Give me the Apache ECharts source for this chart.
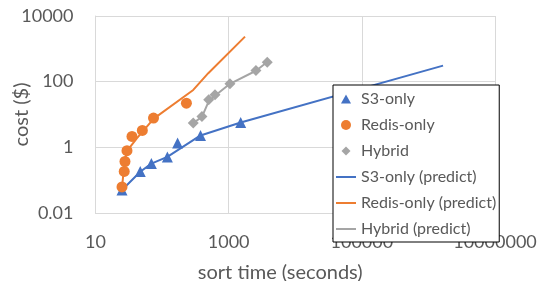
<!DOCTYPE html>
<html>
<head>
<meta charset="utf-8">
<script src="https://cdn.jsdelivr.net/npm/echarts@6/dist/echarts.min.js"></script>
<style>
  html, body { margin: 0; padding: 0; background: #fff; }
  #chart { width: 539px; height: 281px; }
</style>
</head>
<body>
<div id="chart"></div>
<script>
// measured points (sort time in seconds, cost in $)
const s3Time = [25, 47, 69, 120, 171, 378, 1515];
const s3Cost = [0.05, 0.185, 0.32, 0.51, 1.35, 2.3, 5.7];
const redisTime = [25, 27, 27.7, 29.7, 35.3, 50.5, 74.3, 232];
const redisCost = [0.062, 0.185, 0.37, 0.79, 2.14, 3.26, 7.8, 22.2];
const hybridTime = [294, 397, 501, 623, 1045, 2570, 3800];
const hybridCost = [5.5, 8.7, 28, 39.7, 86, 217, 392];

// model predictions
const s3PredTime = [25, 47, 69, 120, 378, 1515, 1660000];
const s3PredCost = [0.05, 0.18, 0.32, 0.51, 2.3, 5.7, 308];
const redisPredTime = [25, 27.4, 30, 42, 75, 294, 494, 1760];
const redisPredCost = [0.06, 0.37, 0.8, 1.9, 7.5, 56, 181, 2350];
const hybridPredTime = [294, 397, 501, 623, 1045, 2570, 3800];
const hybridPredCost = [5.5, 8.5, 25, 37, 86, 215, 395];

const BLUE = '#4472C4';
const ORANGE = '#ED7D31';
const GREY = '#A5A5A5';
const TEXT = '#595959';
const FONT = 'Lato';

// legend icons drawn inside a 20x10 box so they are not stretched
const LINE_ICON = 'path://M0,0H20V2H0Z';
const TRI_ICON = 'path://M0,0M20,10M5,9.5L10,0.5L15,9.5Z';
const DOT_ICON = 'path://M0,0M20,10M5,5A5,5,0,1,1,15,5A5,5,0,1,1,5,5Z';
const DIAMOND_ICON = 'path://M0,0M20,10M10,0.5L14.5,5L10,9.5L5.5,5Z';

function pairs(xs, ys) {
  return xs.map((x, i) => [x, ys[i]]);
}

function fmt(v) {
  return v >= 1 ? String(Math.round(v)) : String(+v.toPrecision(3));
}

function scatterSeries(name, xs, ys, symbol, color) {
  return {
    name: name,
    type: 'scatter',
    data: pairs(xs, ys),
    symbol: symbol,
    symbolSize: 11,
    itemStyle: { color: color, opacity: 1 },
    z: 3
  };
}

function predictSeries(name, xs, ys, color, width) {
  return {
    name: name,
    type: 'line',
    data: pairs(xs, ys),
    symbol: 'none',
    lineStyle: { color: color, width: width },
    itemStyle: { color: color },
    z: 2
  };
}

const chart = echarts.init(document.getElementById('chart'));

const option = {
  animation: false,
  textStyle: { fontFamily: FONT },
  grid: { left: 95.5, right: 44, top: 16, bottom: 68, outerBoundsMode: 'none', containLabel: false },
  legend: {
    orient: 'vertical',
    left: 333,
    top: 85,
    itemWidth: 20,
    itemHeight: 10,
    itemGap: 10,
    padding: [6, 3, 5, 3],
    backgroundColor: '#fff',
    borderColor: '#000',
    borderWidth: 1,
    borderRadius: 0,
    textStyle: { fontFamily: FONT, fontSize: 16, color: TEXT, lineHeight: 10 },
    data: [
      { name: 'S3-only', icon: TRI_ICON },
      { name: 'Redis-only', icon: DOT_ICON },
      { name: 'Hybrid', icon: DIAMOND_ICON },
      { name: 'S3-only (predict)', icon: LINE_ICON },
      { name: 'Redis-only (predict)', icon: LINE_ICON },
      { name: 'Hybrid (predict)', icon: LINE_ICON }
    ]
  },
  xAxis: {
    type: 'log',
    logBase: 10,
    min: 10,
    max: 10000000,
    interval: 2,
    name: 'sort time (seconds)',
    nameLocation: 'middle',
    nameGap: 50,
    nameTextStyle: { fontFamily: FONT, fontSize: 20, color: TEXT, padding: [0, 30, 0, 0] },
    axisLine: { lineStyle: { color: '#d9d9d9' } },
    axisTick: { show: false },
    axisLabel: { fontFamily: FONT, fontSize: 18, color: TEXT, margin: 20, formatter: fmt },
    splitLine: { show: true, lineStyle: { color: '#d9d9d9' } }
  },
  yAxis: {
    type: 'log',
    logBase: 10,
    min: 0.01,
    max: 10000,
    interval: 2,
    name: 'cost ($)',
    nameLocation: 'middle',
    nameGap: 64,
    nameMoveOverlap: false,
    nameTextStyle: { fontFamily: FONT, fontSize: 20, color: TEXT },
    axisLine: { show: true, lineStyle: { color: '#d9d9d9' } },
    axisTick: { show: false },
    axisLabel: { fontFamily: FONT, fontSize: 18, color: TEXT, margin: 22, padding: [4, 0, 0, 0], formatter: fmt },
    splitLine: { show: true, lineStyle: { color: '#d9d9d9' } }
  },
  series: [
    scatterSeries('S3-only', s3Time, s3Cost, 'triangle', BLUE),
    scatterSeries('Redis-only', redisTime, redisCost, 'circle', ORANGE),
    scatterSeries('Hybrid', hybridTime, hybridCost, 'diamond', GREY),
    predictSeries('S3-only (predict)', s3PredTime, s3PredCost, BLUE, 2),
    predictSeries('Redis-only (predict)', redisPredTime, redisPredCost, ORANGE, 2),
    predictSeries('Hybrid (predict)', hybridPredTime, hybridPredCost, GREY, 2)
  ]
};

chart.setOption(option);
</script>
</body>
</html>
